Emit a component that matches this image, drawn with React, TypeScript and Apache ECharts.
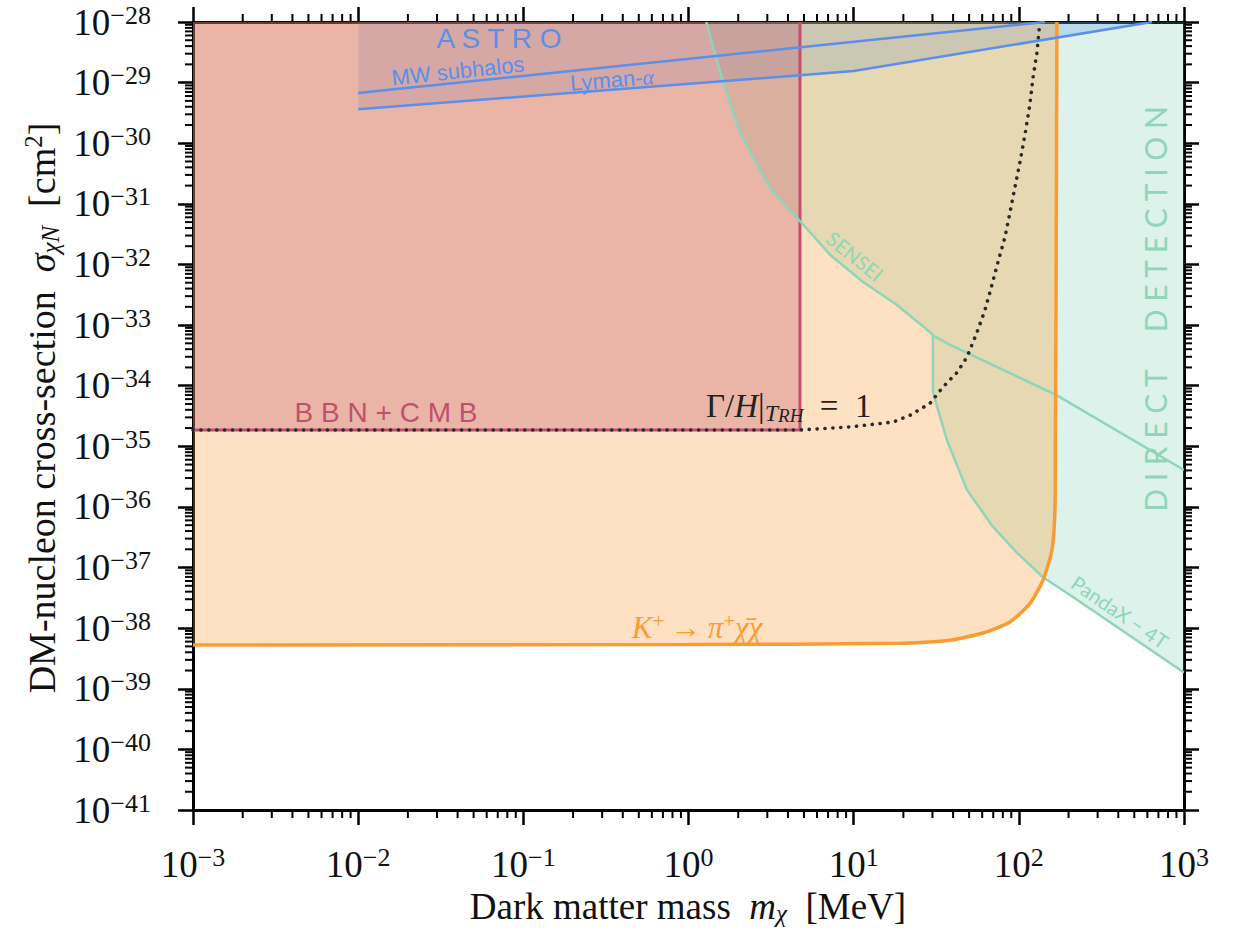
import React, { useEffect, useRef } from "react";
import * as echarts from "echarts";

// ---- axes (MeV, cm^2) ----
const massDecades = [1e-3, 1e-2, 1e-1, 1, 10, 100, 1000];
const sigmaDecades = [
  1e-41, 1e-40, 1e-39, 1e-38, 1e-37, 1e-36, 1e-35, 1e-34, 1e-33, 1e-32, 1e-31,
  1e-30, 1e-29, 1e-28,
];
const minorMultipliers = [2, 3, 4, 5, 6, 7, 8, 9];

// ---- K+ -> pi+ chi-bar chi exclusion (lower edge, then up to the top) ----
const kaonMass = [0.001, 1, 19.1, 38.3, 60.7, 88.4, 116.9, 140, 158.8, 165.6, 166.5, 168, 170];
const kaonSigma = [
  5.25e-39, 5.37e-39, 5.62e-39, 6.31e-39, 8.32e-39, 1.26e-38, 2.57e-38, 6.17e-38,
  1.95e-37, 1.0e-36, 1.26e-35, 2.57e-33, 1e-28,
];

// ---- BBN + CMB ----
const bbnMass = [0.001, 4.73, 4.73];
const bbnSigma = [1.86e-35, 1.86e-35, 1e-28];

// ---- Gamma/H = 1 at reheating ----
const reheatMass = [
  0.001, 4.73, 9.5, 17.3, 21.9, 29.0, 34.8, 42.3, 48.5, 55.8, 62.4, 68.7, 74.8, 82.4,
  88.4, 94.8, 101.6, 108.9, 116.9, 121.8, 128.8, 134,
];
const reheatSigma = [
  1.86e-35, 1.86e-35, 2.09e-35, 2.51e-35, 3.24e-35, 5.13e-35, 9.55e-35, 1.66e-34,
  2.95e-34, 7.59e-34, 1.78e-33, 4.57e-33, 1.1e-32, 2.82e-32, 7.24e-32, 1.91e-31,
  4.9e-31, 1.38e-30, 4.57e-30, 1.2e-29, 3.16e-29, 1e-28,
];

// ---- direct detection envelope (SENSEI, then PandaX-4T) ----
const ddMass = [
  1.28, 1.62, 2.05, 2.6, 3.25, 4.54, 7.19, 11.4, 18.3, 29.0, 30.2, 30.2, 36.7, 48.5,
  69.8, 97.5, 140, 195.7, 1000,
];
const ddSigma = [
  1e-28, 1.02e-29, 1.51e-30, 4.37e-31, 1.55e-31, 5.89e-32, 1.45e-32, 5.13e-33,
  2.14e-33, 7.59e-34, 6.76e-34, 7.76e-35, 1.26e-35, 1.91e-36, 4.68e-37, 1.74e-37,
  6.92e-38, 3.8e-38, 1.86e-39,
];
const senseiTailMass = [30.2, 36.7, 170, 1000];
const senseiTailSigma = [6.76e-34, 5.01e-34, 6.92e-35, 4.07e-36];

// ---- astrophysical bounds ----
const lymanMass = [0.01, 10, 640];
const lymanSigma = [3.63e-30, 1.55e-29, 1e-28];
const subhaloMass = [0.01, 144];
const subhaloSigma = [6.76e-30, 1e-28];

const SERIF = "'Liberation Serif', 'DejaVu Serif', serif";
const SANS = "'Liberation Sans', Arial, sans-serif";
const LIGHT = "Lato, 'Open Sans', sans-serif";

const GREEN = "#8fd5b9";
const BLUE = "#5b8fe8";
const ORANGE = "#f99c32";
const PINK = "#c0506e";

const X_MIN = Math.log10(massDecades[0]);
const X_MAX = Math.log10(massDecades[massDecades.length - 1]);
const Y_MIN = Math.log10(sigmaDecades[0]);
const Y_MAX = Math.log10(sigmaDecades[sigmaDecades.length - 1]);

const toPoints = (m: number[], s: number[]) =>
  m.map((v, i) => [Math.log10(v), Math.log10(s[i])]);

const xMinor = massDecades
  .slice(0, -1)
  .flatMap((d) => minorMultipliers.map((k) => Math.log10(k * d)));
const yMinor = sigmaDecades
  .slice(0, -1)
  .flatMap((d) => minorMultipliers.map((k) => Math.log10(k * d)));

const MINOR_LEN = 8;

const powerLabel = (v: number) => {
  const e = Math.round(v);
  return `{b|10}{s|${e < 0 ? "\u2212" + -e : e}}`;
};

const tickRich = {
  b: { fontSize: 37, fontFamily: SERIF, color: "#111", lineHeight: 40 },
  s: { fontSize: 26, fontFamily: SERIF, color: "#111", lineHeight: 18, verticalAlign: "top" },
};

const frameAxis = (position: string, withLabels: boolean, margin: number) => ({
  type: "value",
  position,
  axisLine: { show: true, onZero: false, lineStyle: { color: "#000", width: 3 } },
  axisTick: { show: true, inside: false, length: 15, lineStyle: { color: "#000", width: 2.5 } },
  splitLine: { show: false },
  axisLabel: withLabels
    ? { show: true, margin, formatter: powerLabel, rich: tickRich }
    : { show: false },
});

function buildOption() {
  const xAxisBase = { min: X_MIN, max: X_MAX, interval: 1 };
  const yAxisBase = { min: Y_MIN, max: Y_MAX, interval: 1 };

  const fill = (name: string, data: number[][], color: string, z: number, smooth = 0) => ({
    name,
    type: "line",
    data,
    z,
    smooth,
    symbol: "none",
    silent: true,
    lineStyle: { opacity: 0, width: 0 },
    areaStyle: { color, origin: "end", opacity: 1 },
  });

  const edge = (
    name: string,
    data: number[][],
    color: string,
    width: number,
    z: number,
    extra: any = {}
  ) => {
    const { smooth, ...style } = extra;
    return {
      name,
      type: "line",
      data,
      z,
      symbol: "none",
      silent: true,
      smooth: smooth || 0,
      lineStyle: { color, width, ...style },
    };
  };

  return {
    animation: false,
    backgroundColor: "#fff",
    grid: { left: 193, top: 22, right: 51, bottom: 122, containLabel: false },
    xAxis: [
      { ...frameAxis("bottom", true, 34), ...xAxisBase },
      { ...frameAxis("top", false, 0), ...xAxisBase },
    ],
    yAxis: [
      { ...frameAxis("left", true, 42), ...yAxisBase },
      { ...frameAxis("right", false, 0), ...yAxisBase },
    ],
    series: [
      fill("Direct detection", toPoints(ddMass, ddSigma), "rgba(102,194,160,0.22)", 1),
      fill("Astro", toPoints(lymanMass, lymanSigma), "rgba(60,130,235,0.22)", 2),
      fill("Kaon", toPoints(kaonMass, kaonSigma), "rgba(249,155,53,0.3)", 3, 0.2),
      {
        name: "BBN+CMB",
        type: "line",
        data: toPoints(bbnMass, bbnSigma),
        z: 4,
        symbol: "none",
        silent: true,
        lineStyle: { color: PINK, width: 3 },
        areaStyle: { color: "rgba(192,80,106,0.3)", origin: "end", opacity: 1 },
      },
      edge("SENSEI/PandaX", toPoints(ddMass, ddSigma), GREEN, 2.5, 5),
      edge("SENSEI tail", toPoints(senseiTailMass, senseiTailSigma), GREEN, 2.5, 5),
      edge("Kaon edge", toPoints(kaonMass, kaonSigma), ORANGE, 3.5, 6, { smooth: 0.2 }),
      edge("Lyman", toPoints(lymanMass, lymanSigma), BLUE, 2.5, 7),
      edge("MW subhalos", toPoints(subhaloMass, subhaloSigma), BLUE, 2.5, 7),
      edge("Reheating", toPoints(reheatMass, reheatSigma), "#2a2a2a", 3.6, 8, {
        type: [0.1, 7.8],
        cap: "round",
      }),
      {
        name: "x minor ticks",
        type: "custom",
        silent: true,
        clip: false,
        z: 20,
        data: xMinor.map((v) => [v, Y_MIN]),
        renderItem: (_p: any, api: any) => {
          const v = api.value(0);
          const b = api.coord([v, Y_MIN]);
          const t = api.coord([v, Y_MAX]);
          const st = { stroke: "#000", lineWidth: 2 };
          return {
            type: "group",
            children: [
              { type: "line", shape: { x1: b[0], y1: b[1], x2: b[0], y2: b[1] + MINOR_LEN }, style: st },
              { type: "line", shape: { x1: t[0], y1: t[1], x2: t[0], y2: t[1] - MINOR_LEN }, style: st },
            ],
          };
        },
      },
      {
        name: "y minor ticks",
        type: "custom",
        silent: true,
        clip: false,
        z: 20,
        data: yMinor.map((v) => [X_MIN, v]),
        renderItem: (_p: any, api: any) => {
          const v = api.value(1);
          const l = api.coord([X_MIN, v]);
          const r = api.coord([X_MAX, v]);
          const st = { stroke: "#000", lineWidth: 2 };
          return {
            type: "group",
            children: [
              { type: "line", shape: { x1: l[0], y1: l[1], x2: l[0] - MINOR_LEN, y2: l[1] }, style: st },
              { type: "line", shape: { x1: r[0], y1: r[1], x2: r[0] + MINOR_LEN, y2: r[1] }, style: st },
            ],
          };
        },
      },
    ],
    graphic: [
      {
        type: "text",
        x: 688,
        y: 906,
        z: 100,
        style: {
          text: "{r|Dark matter mass\u2002}{i|m}{sub|\u03c7}{r|\u2002[MeV]}",
          align: "center",
          verticalAlign: "middle",
          rich: {
            r: { fontSize: 37, fontFamily: SERIF, fill: "#111", lineHeight: 40 },
            i: { fontSize: 37, fontFamily: SERIF, fontStyle: "italic", fill: "#111", lineHeight: 40 },
            sub: { fontSize: 25, fontFamily: SERIF, fontStyle: "italic", fill: "#111", lineHeight: 16, verticalAlign: "bottom" },
          },
        },
      },
      {
        type: "text",
        x: 42,
        y: 408,
        rotation: Math.PI / 2,
        z: 100,
        style: {
          text: "{r|DM-nucleon cross-section\u2002}{i|\u03c3}{sub|\u03c7N}{r|\u2002[cm}{sup|2}{r|]}",
          align: "center",
          verticalAlign: "middle",
          rich: {
            r: { fontSize: 38, fontFamily: SERIF, fill: "#111", lineHeight: 42 },
            i: { fontSize: 38, fontFamily: SERIF, fontStyle: "italic", fill: "#111", lineHeight: 42 },
            sub: { fontSize: 25, fontFamily: SERIF, fontStyle: "italic", fill: "#111", lineHeight: 16, verticalAlign: "bottom" },
            sup: { fontSize: 25, fontFamily: SERIF, fill: "#111", lineHeight: 18, verticalAlign: "top" },
          },
        },
      },
      {
        type: "text", x: 499, y: 38, z: 100,
        style: { text: "A S T R O", fontSize: 28, fontFamily: SANS, fill: BLUE, align: "center", verticalAlign: "middle" },
      },
      {
        type: "text", x: 458, y: 71, rotation: 0.105, z: 100,
        style: { text: "MW subhalos", fontSize: 22, fontFamily: SANS, fill: BLUE, align: "center", verticalAlign: "middle" },
      },
      {
        type: "text", x: 612, y: 80, rotation: 0.08, z: 100,
        style: {
          text: "{a|Lyman-}{g|\u03b1}",
          align: "center",
          verticalAlign: "middle",
          rich: {
            a: { fontSize: 22, fontFamily: SANS, fill: BLUE },
            g: { fontSize: 22, fontFamily: SERIF, fontStyle: "italic", fill: BLUE },
          },
        },
      },
      {
        type: "text", x: 386, y: 412, z: 100,
        style: { text: "B B N + C M B", fontSize: 28, fontFamily: SANS, fill: PINK, align: "center", verticalAlign: "middle" },
      },
      {
        type: "text", x: 855, y: 256, rotation: -0.68, z: 100,
        style: { text: "SENSEI", fontSize: 20, fontFamily: LIGHT, fill: GREEN, align: "center", verticalAlign: "middle" },
      },
      {
        type: "text", x: 1120, y: 612, rotation: -0.6, z: 100,
        style: { text: "PandaX \u2212 4T", fontSize: 20, fontFamily: LIGHT, fill: GREEN, align: "center", verticalAlign: "middle" },
      },
      {
        type: "text", x: 1155, y: 309, rotation: Math.PI / 2, z: 100,
        style: {
          text: "D I R E C T \u2003 D E T E C T I O N",
          fontSize: 30,
          fontFamily: LIGHT,
          fill: GREEN,
          align: "center",
          verticalAlign: "middle",
        },
      },
      {
        type: "text", x: 706, y: 406, z: 100,
        style: {
          text: "{g|\u0393/}{i|H}{g||}{t|T}{r|RH}{g|\u2002=\u20021}",
          align: "left",
          verticalAlign: "middle",
          rich: {
            g: { fontSize: 33, fontFamily: SERIF, fill: "#222", lineHeight: 38 },
            i: { fontSize: 33, fontFamily: SERIF, fontStyle: "italic", fill: "#222", lineHeight: 38 },
            t: { fontSize: 24, fontFamily: SERIF, fontStyle: "italic", fill: "#222", lineHeight: 16, verticalAlign: "bottom" },
            r: { fontSize: 19, fontFamily: SERIF, fontStyle: "italic", fill: "#222", lineHeight: 10, verticalAlign: "bottom" },
          },
        },
      },
      {
        type: "text", x: 697, y: 627, z: 100,
        style: {
          text: "{k|K}{p|+}{k|\u2009\u2192\u2009\u03c0}{p|+}{k|\u03c7\u0304\u03c7}",
          align: "center",
          verticalAlign: "middle",
          rich: {
            k: { fontSize: 31, fontFamily: SERIF, fontStyle: "italic", fill: ORANGE, lineHeight: 34 },
            p: { fontSize: 21, fontFamily: SERIF, fill: ORANGE, lineHeight: 16, verticalAlign: "top" },
          },
        },
      },
    ],
  };
}

export default function App() {
  const ref = useRef<HTMLDivElement>(null);
  useEffect(() => {
    if (!ref.current) return;
    const chart = echarts.init(ref.current, null, { renderer: "svg" });
    chart.setOption(buildOption() as any);
    return () => chart.dispose();
  }, []);
  return (
    <div
      ref={ref}
      style={{ position: "fixed", left: 0, top: 0, width: 1235, height: 932, background: "#fff" }}
    />
  );
}
